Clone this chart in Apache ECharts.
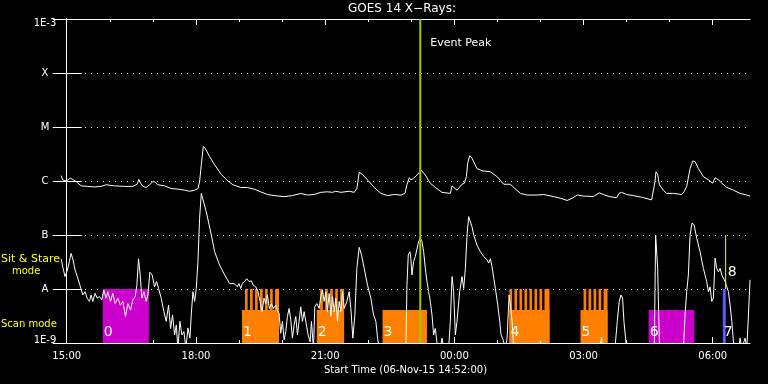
<!DOCTYPE html>
<html><head><meta charset="utf-8">
<script src="https://cdn.jsdelivr.net/npm/echarts@6/dist/echarts.min.js"></script>
<style>html,body{margin:0;padding:0;background:#000;}#c{width:768px;height:384px;}</style>
</head><body><div id="c"></div>
<script>
// x values: hours since 06-Nov-15 15:00 ; y values: log10 of X-ray flux (W/m^2)
const xMin = -0.1333, xMax = 15.865;
const yMin = -9, yMax = -3;
const xTickValues = [0, 3, 6, 9, 12, 15];
const xTickLabels = ['15:00', '18:00', '21:00', '00:00', '03:00', '06:00'];
const xHourTicks = [0,1,2,3,4,5,6,7,8,9,10,11,12,13,14,15];
const yTickLabels = ['1E-9', 'A', 'B', 'C', 'M', 'X', '1E-3'];

const longChannel = [[-0.13,-5.90],[-0.093,-5.98],[-0.016,-6.00],[0.085,-5.95],[0.14,-5.97],[0.217,-6.01],[0.334,-6.09],[0.488,-6.10],[0.643,-6.11],[0.798,-6.10],[0.915,-6.07],[1.109,-6.09],[1.341,-6.10],[1.535,-6.10],[1.636,-6.06],[1.674,-5.97],[1.713,-6.04],[1.767,-6.10],[1.845,-6.12],[1.922,-6.07],[2.0,-6.01],[2.054,-6.02],[2.116,-6.07],[2.271,-6.09],[2.426,-6.14],[2.581,-6.15],[2.736,-6.17],[2.853,-6.19],[2.969,-6.17],[3.047,-6.14],[3.085,-6.01],[3.124,-5.70],[3.171,-5.36],[3.217,-5.40],[3.318,-5.55],[3.434,-5.70],[3.589,-5.88],[3.744,-6.00],[3.86,-6.07],[4.039,-6.12],[4.194,-6.12],[4.349,-6.15],[4.504,-6.20],[4.659,-6.25],[4.814,-6.27],[5.047,-6.29],[5.24,-6.27],[5.434,-6.23],[5.589,-6.26],[5.744,-6.25],[5.899,-6.21],[6.054,-6.20],[6.171,-6.21],[6.248,-6.19],[6.364,-6.21],[6.558,-6.19],[6.674,-6.21],[6.736,-6.14],[6.791,-5.84],[6.868,-5.88],[6.984,-5.98],[7.14,-6.12],[7.295,-6.23],[7.45,-6.27],[7.605,-6.25],[7.76,-6.26],[7.853,-6.23],[7.899,-6.07],[7.953,-5.94],[7.99,-5.98],[8.054,-5.95],[8.132,-5.89],[8.17,-5.92],[8.233,-5.80],[8.326,-5.89],[8.442,-6.04],[8.558,-6.12],[8.713,-6.21],[8.907,-6.23],[8.946,-6.09],[9.062,-6.17],[9.178,-6.06],[9.233,-6.04],[9.28,-5.92],[9.31,-5.67],[9.357,-5.53],[9.411,-5.58],[9.527,-5.77],[9.643,-5.81],[9.837,-5.83],[9.992,-5.92],[10.147,-6.06],[10.302,-6.06],[10.38,-6.12],[10.535,-6.23],[10.69,-6.26],[10.922,-6.26],[11.077,-6.25],[11.31,-6.29],[11.465,-6.32],[11.62,-6.36],[11.736,-6.32],[11.853,-6.26],[12.008,-6.28],[12.07,-6.28],[12.225,-6.29],[12.364,-6.22],[12.457,-6.25],[12.612,-6.29],[12.767,-6.31],[12.822,-6.23],[12.884,-6.21],[13.0,-6.25],[13.155,-6.27],[13.349,-6.30],[13.581,-6.35],[13.62,-6.32],[13.659,-6.01],[13.682,-5.83],[13.721,-5.88],[13.76,-6.07],[13.853,-6.17],[13.93,-6.23],[14.085,-6.23],[14.279,-6.25],[14.333,-6.20],[14.395,-6.10],[14.473,-5.77],[14.535,-5.63],[14.589,-5.64],[14.667,-5.77],[14.783,-5.92],[14.9,-5.98],[15.0,-6.04],[15.054,-5.94],[15.132,-5.98],[15.209,-6.04],[15.326,-6.12],[15.481,-6.17],[15.636,-6.23],[15.791,-6.26],[15.865,-6.28]];

const shortChannel = [[-0.13,-7.44],[-0.093,-7.59],[-0.039,-7.77],[0.008,-7.67],[0.062,-7.49],[0.101,-7.34],[0.14,-7.44],[0.194,-7.65],[0.256,-7.80],[0.318,-7.96],[0.372,-8.11],[0.426,-8.05],[0.473,-8.17],[0.527,-8.23],[0.566,-8.11],[0.605,-8.23],[0.659,-8.08],[0.705,-8.17],[0.76,-8.14],[0.814,-8.20],[0.86,-8.02],[0.915,-8.17],[0.953,-8.05],[1.016,-8.23],[1.07,-8.08],[1.124,-8.27],[1.186,-8.17],[1.248,-8.30],[1.302,-8.23],[1.364,-8.51],[1.419,-8.27],[1.481,-8.39],[1.535,-8.20],[1.59,-8.14],[1.628,-7.93],[1.667,-7.44],[1.705,-7.74],[1.744,-8.17],[1.791,-8.05],[1.845,-8.23],[1.884,-8.11],[1.93,-7.69],[1.984,-7.74],[2.039,-7.96],[2.085,-7.86],[2.132,-7.99],[2.194,-8.17],[2.256,-8.42],[2.31,-8.60],[2.364,-8.30],[2.411,-8.73],[2.457,-8.48],[2.504,-8.85],[2.543,-8.67],[2.581,-9.1],[2.628,-8.60],[2.674,-8.85],[2.721,-8.79],[2.767,-9.1],[2.814,-8.72],[2.86,-8.91],[2.891,-8.48],[2.93,-8.05],[2.969,-8.23],[3.008,-7.99],[3.047,-7.49],[3.085,-6.69],[3.124,-6.23],[3.163,-6.26],[3.24,-6.57],[3.357,-7.00],[3.434,-7.31],[3.55,-7.56],[3.667,-7.74],[3.783,-7.90],[3.884,-7.90],[3.961,-7.96],[3.999,-7.90],[4.039,-7.99],[4.077,-7.90],[4.132,-7.86],[4.178,-7.81],[4.233,-7.86],[4.287,-7.85],[4.333,-7.93],[4.388,-7.96],[4.442,-8.05],[4.488,-8.23],[4.535,-8.42],[4.581,-8.17],[4.62,-8.27],[4.659,-8.11],[4.705,-8.36],[4.752,-8.27],[4.798,-8.36],[4.853,-8.30],[4.891,-8.39],[4.93,-8.45],[4.969,-8.82],[5.008,-8.60],[5.047,-8.94],[5.085,-8.79],[5.124,-8.51],[5.163,-8.36],[5.202,-8.57],[5.24,-8.91],[5.279,-8.67],[5.318,-8.51],[5.357,-8.85],[5.395,-8.60],[5.434,-8.33],[5.473,-8.60],[5.512,-8.42],[5.55,-8.39],[5.605,-8.85],[5.651,-8.98],[5.682,-8.60],[5.729,-9.1],[5.76,-8.33],[5.806,-8.27],[5.861,-8.36],[5.899,-8.14],[5.938,-8.02],[5.977,-8.23],[6.016,-8.05],[6.054,-8.42],[6.093,-8.08],[6.132,-8.51],[6.171,-8.14],[6.209,-8.42],[6.248,-8.17],[6.287,-8.60],[6.326,-8.23],[6.364,-8.42],[6.403,-8.05],[6.442,-8.36],[6.504,-8.23],[6.558,-8.05],[6.597,-8.36],[6.643,-8.91],[6.69,-8.48],[6.736,-7.62],[6.791,-7.23],[6.845,-7.37],[6.907,-7.62],[6.984,-7.93],[7.062,-8.17],[7.124,-8.48],[7.178,-8.60],[7.217,-8.91],[7.256,-9.1],[7.4,-9.5],[7.8,-9.5],[7.876,-9.1],[7.899,-7.93],[7.93,-7.37],[7.969,-7.31],[7.99,-7.43],[8.016,-7.74],[8.054,-7.49],[8.093,-7.40],[8.132,-7.37],[8.171,-7.12],[8.209,-7.06],[8.248,-7.12],[8.287,-7.31],[8.326,-7.62],[8.364,-7.86],[8.403,-8.05],[8.442,-8.23],[8.481,-8.48],[8.519,-8.85],[8.558,-8.73],[8.597,-9.0],[8.674,-9.1],[8.713,-8.91],[8.752,-9.1],[8.868,-9.1],[8.907,-8.60],[8.946,-7.77],[8.984,-8.05],[9.023,-8.85],[9.062,-8.60],[9.124,-8.05],[9.178,-7.77],[9.217,-7.99],[9.256,-7.62],[9.295,-7.00],[9.333,-6.66],[9.372,-6.63],[9.411,-6.85],[9.45,-7.00],[9.527,-7.19],[9.605,-7.31],[9.682,-7.40],[9.76,-7.46],[9.798,-7.52],[9.837,-7.44],[9.876,-7.59],[9.915,-7.80],[9.953,-7.99],[10.008,-8.30],[10.054,-8.60],[10.085,-8.85],[10.132,-8.94],[10.186,-9.1],[10.225,-8.91],[10.271,-8.11],[10.302,-8.30],[10.341,-8.60],[10.38,-9.1],[10.5,-9.5],[10.96,-9.3],[11.0,-8.95],[11.03,-9.3],[12.35,-9.5],[12.39,-9.0],[12.42,-8.9],[12.45,-9.3],[12.729,-9.1],[12.783,-8.60],[12.829,-8.23],[12.868,-8.11],[12.907,-8.17],[12.938,-8.60],[12.984,-8.98],[13.016,-9.1],[13.3,-9.5],[13.643,-9.1],[13.674,-7.00],[13.698,-7.00],[13.721,-7.62],[13.76,-8.98],[13.79,-9.1],[14.0,-9.5],[14.318,-9.1],[14.357,-8.48],[14.395,-8.05],[14.434,-7.74],[14.473,-7.00],[14.519,-6.78],[14.566,-6.81],[14.628,-7.06],[14.705,-7.31],[14.783,-7.62],[14.86,-7.86],[14.899,-8.05],[14.938,-7.96],[14.977,-8.23],[15.016,-8.17],[15.054,-7.43],[15.093,-7.62],[15.132,-7.68],[15.171,-7.62],[15.209,-7.74],[15.248,-7.71],[15.287,-7.86],[15.326,-7.96],[15.364,-8.05],[15.403,-8.30],[15.442,-8.60],[15.481,-8.98],[15.519,-9.1],[15.597,-9.1],[15.636,-8.91],[15.674,-9.1],[15.752,-8.91],[15.791,-9.1],[15.829,-8.48],[15.865,-7.83]];

// observation blocks
const blockLabel = ['0', '1', '2', '3', '4', '5', '6', '7'];
const blockStart = [0.837, 4.07, 5.806, 7.333, 10.279, 11.93, 13.512, 15.233];
const blockEnd   = [1.907, 4.93, 6.44, 8.364, 11.209, 12.557, 14.574, 15.302];
const blockTop   = [-8.0, -8.39, -8.39, -8.39, -8.39, -8.39, -8.39, -8.0];
const blockKind  = ['stare', 'scan', 'scan', 'scan', 'scan', 'scan', 'stare', 'other'];
const blockLabelLevel = -8.805;

// raster windows (orange comb) reaching the sit & stare level
const rasterStart = [4.14,4.256,4.372,4.488,4.605,4.721,4.837, 5.884,6.0,6.116,6.233,6.349, 10.279,10.395,10.512,10.628,10.744,10.86,10.977,11.093, 12.0,12.116,12.233,12.349,12.465];
const rasterEnd   = [4.20,4.318,4.434,4.55,4.667,4.783,4.93, 5.946,6.062,6.178,6.295,6.44, 10.341,10.457,10.574,10.69,10.806,10.922,11.039,11.21, 12.062,12.178,12.295,12.411,12.557];
const rasterTop = -8.0;

const eventPeakTime = 8.209;
const eventPeakLabel = 'Event Peak';
const eventPeakLabelLevel = -3.44;

const flagTime = 15.30, flagLow = -8.0, flagHigh = -7.0, flagLabel = '8', flagLabelLevel = -7.69;

const COLORS = { stare: '#cc00cc', scan: '#ff8000', other: '#5a5aff' };
const FONT = 'DejaVu Sans';

const chart = echarts.init(document.getElementById('c'), null, { renderer: 'canvas' });

function hiddenXAxis(position, len, values, showLine) {
  return {
    type: 'value', position: position, min: xMin, max: xMax,
    axisLine: { show: showLine, lineStyle: { color: '#fff', width: 1 } },
    axisTick: { show: true, inside: true, length: len, customValues: values, lineStyle: { color: '#fff' } },
    axisLabel: { show: false }, splitLine: { show: false }
  };
}

const option = {
  backgroundColor: '#000',
  animation: false,
  grid: { left: 61, right: 18, top: 19, bottom: 41 },
  xAxis: [
    {
      type: 'value', position: 'bottom', min: xMin, max: xMax,
      axisLine: { show: true, lineStyle: { color: '#fff', width: 1 } },
      axisTick: { show: true, inside: true, length: 6, customValues: xTickValues, lineStyle: { color: '#fff' } },
      axisLabel: {
        customValues: xTickValues, color: '#fff', fontSize: 10, fontFamily: FONT, margin: 8,
        formatter: function (v) { const i = xTickValues.indexOf(Math.round(v)); return i >= 0 ? xTickLabels[i] : ''; }
      },
      splitLine: { show: false },
      name: 'Start Time (06-Nov-15 14:52:00)', nameLocation: 'middle', nameGap: 21,
      nameTextStyle: { color: '#fff', fontSize: 10, fontFamily: FONT }
    },
    hiddenXAxis('bottom', 3, xHourTicks, false),
    hiddenXAxis('top', 3, xHourTicks, true),
    hiddenXAxis('top', 6, xTickValues, false)
  ],
  yAxis: [
    {
      type: 'value', position: 'left', min: yMin, max: yMax, interval: 1,
      axisLine: { show: true, lineStyle: { color: '#fff', width: 1 } },
      axisTick: { show: true, inside: true, length: 15, lineStyle: { color: '#fff' } },
      axisLabel: {
        color: '#fff', fontSize: 10, fontFamily: FONT, margin: 16, align: 'center',
        formatter: function (v) {
          const i = Math.round(v - yMin);
          const t = yTickLabels[i];
          if (i === yTickLabels.length - 1) return '{top|' + t + '}';
          if (i === 0) return '{bot|' + t + '}';
          return t;
        },
        rich: {
          top: { color: '#fff', fontSize: 10, fontFamily: FONT, padding: [8, 0, 0, 0] },
          bot: { color: '#fff', fontSize: 10, fontFamily: FONT, padding: [0, 0, 5, 0] }
        }
      },
      splitLine: { show: true, lineStyle: { color: '#fff', width: 1, type: [1, 5] } }
    },
    {
      type: 'value', position: 'right', min: yMin, max: yMax, interval: 1,
      axisLine: { show: true, lineStyle: { color: '#fff', width: 1 } },
      axisTick: { show: true, inside: true, length: 14, lineStyle: { color: '#fff' } },
      axisLabel: { show: false }, splitLine: { show: false }
    }
  ],
  graphic: [
    { type: 'text', x: 402, y: 9, style: { text: 'GOES 14 X\u2212Rays:', fill: '#fff', fontSize: 12, fontFamily: FONT, align: 'center', verticalAlign: 'middle' } },
    { type: 'text', x: 1, y: 259, style: { text: 'Sit & Stare', fill: '#ffff00', fontSize: 11, fontFamily: FONT, align: 'left', verticalAlign: 'middle' } },
    { type: 'text', x: 12, y: 271, style: { text: 'mode', fill: '#ffff00', fontSize: 10, fontFamily: FONT, align: 'left', verticalAlign: 'middle' } },
    { type: 'text', x: 1, y: 324, style: { text: 'Scan mode', fill: '#ffff00', fontSize: 10, fontFamily: FONT, align: 'left', verticalAlign: 'middle' } }
  ],
  series: [
    {
      type: 'custom', name: 'blocks', z: 1,
      renderItem: function (params, api) {
        const i = params.dataIndex;
        const a = api.coord([api.value(0), api.value(2)]);
        const b = api.coord([api.value(1), yMin]);
        return { type: 'rect', shape: { x: a[0], y: a[1], width: b[0] - a[0], height: b[1] - a[1] }, style: { fill: COLORS[blockKind[i]] } };
      },
      encode: { x: [0, 1], y: 2 },
      data: blockStart.map(function (s, i) { return [s, blockEnd[i], blockTop[i]]; })
    },
    {
      type: 'custom', name: 'rasters', z: 1,
      renderItem: function (params, api) {
        const a = api.coord([api.value(0), api.value(2)]);
        const b = api.coord([api.value(1), yMin]);
        return { type: 'rect', shape: { x: a[0], y: a[1], width: b[0] - a[0], height: b[1] - a[1] }, style: { fill: COLORS.scan } };
      },
      encode: { x: [0, 1], y: 2 },
      data: rasterStart.map(function (s, i) { return [s, rasterEnd[i], rasterTop]; })
    },
    {
      type: 'line', name: 'long', z: 3, data: longChannel, showSymbol: false, symbol: 'none', clip: true,
      lineStyle: { color: '#fff', width: 1 }
    },
    {
      type: 'line', name: 'short', z: 3, data: shortChannel, showSymbol: false, symbol: 'none', clip: true,
      lineStyle: { color: '#fff', width: 1 }
    },
    {
      type: 'custom', name: 'blockLabels', z: 4,
      renderItem: function (params, api) {
        const p = api.coord([api.value(0), api.value(1)]);
        return { type: 'text', x: p[0] + 1, y: p[1], style: { text: blockLabel[params.dataIndex], fill: '#fff', fontSize: 14, fontFamily: FONT, align: 'left', verticalAlign: 'middle' } };
      },
      data: blockStart.map(function (s) { return [s, blockLabelLevel]; })
    },
    {
      type: 'custom', name: 'flag', z: 5,
      renderItem: function (params, api) {
        const a = api.coord([api.value(0), api.value(1)]);
        const b = api.coord([api.value(0), api.value(2)]);
        const t = api.coord([api.value(0), api.value(3)]);
        return { type: 'group', children: [
          { type: 'line', shape: { x1: a[0], y1: a[1], x2: b[0], y2: b[1] }, style: { stroke: '#ffff00', lineWidth: 1 } },
          { type: 'text', x: t[0] + 2, y: t[1], style: { text: flagLabel, fill: '#fff', fontSize: 14, fontFamily: FONT, align: 'left', verticalAlign: 'middle' } }
        ] };
      },
      data: [[flagTime, flagLow, flagHigh, flagLabelLevel]]
    },
    {
      type: 'custom', name: 'eventPeak', z: 6,
      renderItem: function (params, api) {
        const a = api.coord([api.value(0), yMax]);
        const b = api.coord([api.value(0), yMin]);
        const t = api.coord([api.value(0), api.value(1)]);
        return { type: 'group', children: [
          { type: 'line', shape: { x1: a[0], y1: a[1], x2: b[0], y2: b[1] }, style: { stroke: '#9acd00', lineWidth: 2 } },
          { type: 'text', x: t[0] + 10, y: t[1], style: { text: eventPeakLabel, fill: '#fff', fontSize: 11, fontFamily: FONT, align: 'left', verticalAlign: 'middle' } }
        ] };
      },
      data: [[eventPeakTime, eventPeakLabelLevel]]
    }
  ]
};
chart.setOption(option);
</script>
</body></html>
